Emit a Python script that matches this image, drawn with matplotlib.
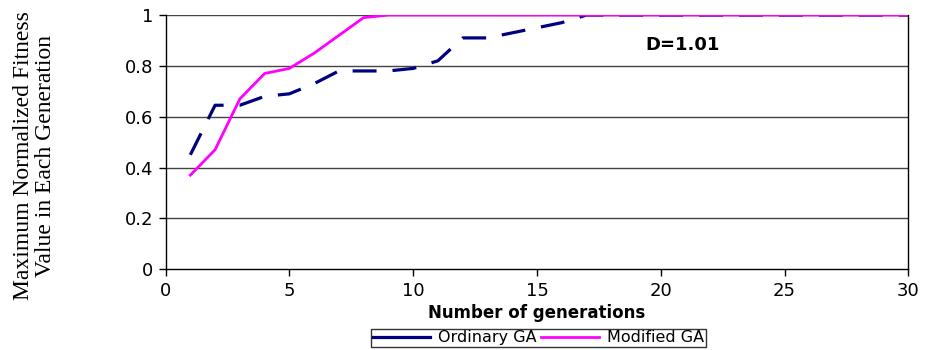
import matplotlib
matplotlib.use("Agg")
import matplotlib.pyplot as plt

# generations 1..30
generations = list(range(1, 31))

ordinary_ga = [0.45, 0.645, 0.645, 0.68, 0.69, 0.73, 0.78, 0.78, 0.78, 0.79,
               0.82, 0.91, 0.91, 0.93, 0.95, 0.97, 1.0, 1.0, 1.0, 1.0,
               1.0, 1.0, 1.0, 1.0, 1.0, 1.0, 1.0, 1.0, 1.0, 1.0]
modified_ga = [0.37, 0.47, 0.67, 0.77, 0.79, 0.85, 0.92, 0.99, 1.0, 1.0,
               1.0, 1.0, 1.0, 1.0, 1.0, 1.0, 1.0, 1.0, 1.0, 1.0,
               1.0, 1.0, 1.0, 1.0, 1.0, 1.0, 1.0, 1.0, 1.0, 1.0]

x_ticks = [0, 5, 10, 15, 20, 25, 30]
y_ticks = [0, 0.2, 0.4, 0.6, 0.8, 1]
y_tick_labels = ["0", "0.2", "0.4", "0.6", "0.8", "1"]

fig = plt.figure(figsize=(9.25, 3.5), dpi=100)
ax = fig.add_axes([0.179, 0.231, 0.803, 0.726])

for y in y_ticks[1:]:
    ax.axhline(y, color="#444444", lw=1, zorder=1)

ax.plot(generations, ordinary_ga, color="#000080", lw=2.3,
        dashes=(7.5, 5), label="Ordinary GA", zorder=2)
ax.plot(generations, modified_ga, color="#FF00FF", lw=2,
        label="Modified GA", zorder=3)

ax.set_xlim(0, 30)
ax.set_ylim(0, 1)
ax.set_xticks(x_ticks)
ax.set_yticks(y_ticks)
ax.set_yticklabels(y_tick_labels)
ax.tick_params(direction="out", length=5, width=1, color="black",
               labelsize=13, pad=4)
for lab in ax.get_xticklabels() + ax.get_yticklabels():
    lab.set_family("DejaVu Sans")

for side in ["left", "bottom", "right"]:
    ax.spines[side].set_color("black")
    ax.spines[side].set_linewidth(1)
ax.spines["top"].set_visible(False)

ax.set_xlabel("Number of generations", fontsize=12, fontweight="bold",
              family="DejaVu Sans", labelpad=3)
ax.set_ylabel("Maximum Normalized Fitness\nValue in Each Generation",
              fontsize=17, family="Liberation Serif", linespacing=1.05,
              va="center", ha="center")
ax.yaxis.set_label_coords(-0.1765, 0.447)

ax.text(20.9, 0.883, "D=1.01", fontsize=13, fontweight="bold",
        family="DejaVu Sans", ha="center", va="center")

leg = fig.legend(loc="center", bbox_to_anchor=(0.582, 0.035),
                 ncol=2, frameon=True, fancybox=False,
                 handlelength=3.6, columnspacing=0.3, handletextpad=0.5,
                 borderpad=0.1, edgecolor="black",
                 prop={"family": "DejaVu Sans", "size": 11.5})
leg.get_frame().set_linewidth(1)
leg.legend_handles[0].set_linestyle("-")

fig.savefig("out.png", dpi=100)
